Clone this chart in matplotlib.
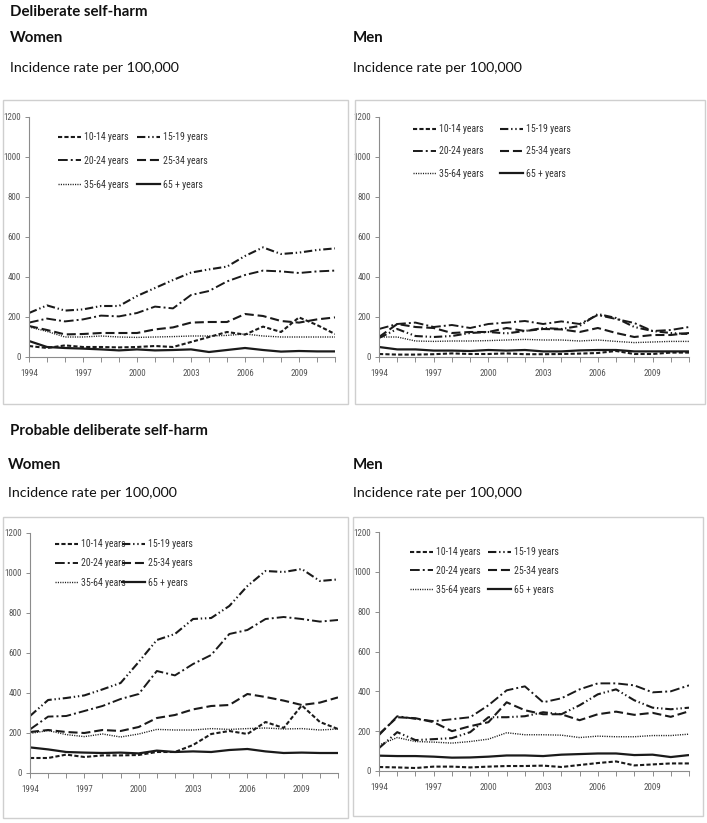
import matplotlib
matplotlib.use("Agg")
import matplotlib.pyplot as plt
from matplotlib import font_manager
from matplotlib.font_manager import FontProperties
from matplotlib.patches import Rectangle
from matplotlib.lines import Line2D

years = list(range(1994, 2012))
age_groups = ["10-14 years", "15-19 years", "20-24 years", "25-34 years", "35-64 years", "65 + years"]
year_labels = ["1994", "1997", "2000", "2003", "2006", "2009"]
y_ticks = [0, 200, 400, 600, 800, 1000, 1200]

# Deliberate self-harm, women
dsh_women_10_14 = [55, 45, 58, 50, 50, 48, 50, 55, 50, 75, 100, 125, 112, 152, 125, 198, 160, 115]
dsh_women_15_19 = [220, 258, 232, 238, 255, 255, 305, 345, 385, 422, 438, 452, 505, 548, 515, 522, 535, 543]
dsh_women_20_24 = [172, 192, 178, 188, 207, 203, 220, 252, 243, 310, 330, 378, 410, 432, 428, 420, 428, 432]
dsh_women_25_34 = [155, 135, 113, 115, 120, 120, 120, 138, 148, 172, 175, 175, 215, 205, 180, 172, 188, 198]
dsh_women_35_64 = [150, 128, 100, 100, 105, 100, 98, 100, 102, 105, 105, 108, 115, 105, 100, 100, 100, 100]
dsh_women_65 = [80, 50, 45, 42, 38, 33, 38, 33, 35, 38, 25, 35, 45, 35, 27, 30, 28, 28]

# Deliberate self-harm, men
dsh_men_10_14 = [15, 12, 12, 14, 18, 15, 15, 18, 14, 14, 15, 17, 20, 30, 15, 15, 22, 22]
dsh_men_15_19 = [95, 140, 105, 100, 105, 120, 125, 118, 130, 145, 140, 155, 215, 195, 150, 130, 120, 115]
dsh_men_20_24 = [140, 165, 172, 150, 160, 145, 165, 172, 180, 165, 178, 165, 210, 190, 170, 130, 135, 150]
dsh_men_25_34 = [100, 165, 150, 145, 120, 125, 125, 145, 130, 140, 138, 125, 145, 120, 100, 110, 110, 120]
dsh_men_35_64 = [100, 100, 80, 78, 80, 80, 82, 85, 88, 85, 85, 80, 85, 78, 72, 75, 78, 78]
dsh_men_65 = [50, 38, 38, 32, 32, 30, 35, 32, 35, 28, 28, 33, 35, 35, 28, 28, 28, 28]

# Probable deliberate self-harm, women
pdsh_women_10_14 = [75, 75, 92, 80, 88, 88, 90, 105, 105, 140, 195, 210, 195, 255, 225, 338, 255, 220]
pdsh_women_15_19 = [285, 365, 375, 388, 418, 450, 555, 665, 695, 770, 775, 835, 935, 1010, 1005, 1020, 960, 968]
pdsh_women_20_24 = [218, 282, 285, 310, 335, 370, 395, 510, 488, 545, 590, 695, 715, 770, 780, 770, 757, 765]
pdsh_women_25_34 = [205, 215, 205, 200, 215, 210, 230, 275, 290, 318, 335, 340, 395, 380, 362, 340, 352, 378]
pdsh_women_35_64 = [198, 212, 192, 182, 195, 180, 195, 218, 215, 215, 222, 218, 222, 225, 220, 222, 215, 220]
pdsh_women_65 = [128, 118, 105, 102, 100, 102, 98, 112, 105, 108, 105, 115, 120, 108, 100, 102, 100, 100]

# Probable deliberate self-harm, men
pdsh_men_10_14 = [20, 18, 15, 22, 22, 18, 22, 25, 25, 27, 20, 30, 40, 48, 28, 33, 38, 38]
pdsh_men_15_19 = [115, 195, 155, 160, 165, 195, 270, 270, 275, 295, 285, 330, 385, 410, 355, 318, 310, 318]
pdsh_men_20_24 = [180, 275, 262, 250, 260, 270, 330, 405, 425, 345, 365, 410, 440, 440, 430, 395, 400, 430]
pdsh_men_25_34 = [185, 270, 265, 245, 200, 225, 245, 345, 305, 285, 285, 255, 285, 298, 282, 292, 272, 300]
pdsh_men_35_64 = [130, 168, 148, 145, 140, 148, 160, 192, 182, 182, 180, 168, 175, 172, 172, 178, 178, 185]
pdsh_men_65 = [77, 75, 75, 72, 67, 68, 72, 78, 78, 75, 82, 85, 88, 88, 80, 82, 70, 80]

W, H = 707, 823
LINE = "#1a1a1a"
AXIS = "#8c8c8c"
TICKTXT = "#555555"
LEGTXT = "#333333"
FRAME = "#cfcfcf"
HEAD = ["Lato", "DejaVu Sans"]

# dash patterns in points (scale_dashes off)
styles = [
    dict(ls=(0, (3.0, 1.6)), lw=1.5),               # 10-14
    dict(ls=(0, (6, 2, 1, 2, 1, 2)), lw=1.5),       # 15-19
    dict(ls=(0, (7, 2.2, 1.4, 2.2)), lw=1.4),       # 20-24
    dict(ls=(0, (6.5, 2.8)), lw=1.5),               # 25-34
    dict(ls=(0, (0.8, 0.9)), lw=1.0),               # 35-64
    dict(ls="-", lw=1.6),                           # 65+
]


def narrow_font(size):
    """
    The source uses a condensed Excel font; take the narrowest regular one installed
    and pin it to its file so every label uses the same face.
    """
    fonts = font_manager.fontManager.ttflist
    names = {f.name for f in fonts}
    for name in ["Liberation Sans Narrow", "Roboto Condensed", "Open Sans Condensed"]:
        if name in names:
            path = font_manager.findfont(FontProperties(family=name, weight="normal",
                                                        style="normal"))
            return FontProperties(fname=path, size=size)
    for f in fonts:
        if f.name == "DejaVu Sans" and str(f.stretch) in ("condensed", "semi-condensed") \
                and f.weight in (400, "normal") and f.style == "normal":
            return FontProperties(fname=f.fname, size=size)
    return FontProperties(family=["Roboto", "DejaVu Sans"], size=size - 0.8)


def px_axes(fig, x0, y0, x1, y1):
    """Add axes from pixel box (top-left origin)."""
    return fig.add_axes([x0 / W, 1 - y1 / H, (x1 - x0) / W, (y1 - y0) / H])


def px_frame(fig, x0, y0, x1, y1):
    """Light grey chart-area border like the Excel export."""
    fig.patches.append(Rectangle((x0 / W, 1 - y1 / H), (x1 - x0) / W, (y1 - y0) / H,
                                 transform=fig.transFigure, fill=False,
                                 edgecolor=FRAME, linewidth=1.0))


def draw_panel(fig, ax, series, leg_pos, tick_font, leg_font):
    """
    Draw one panel. leg_pos = (col1 x, col2 x, first row y, row pitch) in pixels.
    """
    for vals, st in zip(series, styles):
        ax.plot(years, vals, color=LINE, linestyle=st["ls"], linewidth=st["lw"],
                solid_capstyle="butt", dash_capstyle="butt")
    ax.set_xlim(years[0], years[-1])
    ax.set_ylim(0, 1200)
    ax.set_yticks(y_ticks)
    ax.set_xticks(years, minor=True)
    ax.set_xticks([int(y) for y in year_labels])
    ax.set_xticklabels(year_labels)
    for s in ["top", "right"]:
        ax.spines[s].set_visible(False)
    for s in ["left", "bottom"]:
        ax.spines[s].set_color(AXIS)
        ax.spines[s].set_linewidth(0.8)
    ax.tick_params(axis="both", which="both", color=AXIS, width=0.7, labelcolor=TICKTXT)
    ax.tick_params(axis="x", which="both", direction="out", length=3.5, pad=5)
    ax.tick_params(axis="y", direction="out", length=3, pad=3)
    for lab in ax.get_xticklabels() + ax.get_yticklabels():
        lab.set_fontproperties(tick_font)
    ax.set_facecolor("none")

    # legend 3 rows x 2 columns; column gap worked out from the text width
    handles = [Line2D([], [], color=LINE, linestyle=st["ls"], linewidth=st["lw"])
               for st in styles]
    order = [0, 2, 4, 1, 3, 5]
    col1_x, col2_x, row_y, pitch = leg_pos
    fsize_px = leg_font.get_size_in_points() * 100 / 72
    handlelength, textpad = 2.4, 0.3
    renderer = fig.canvas.get_renderer()
    text_w = max(renderer.get_text_width_height_descent(age_groups[i], leg_font, ismath=False)[0]
                 for i in [0, 2, 4])
    colspace = (col2_x - col1_x - (handlelength + textpad) * fsize_px - text_w) / fsize_px
    spacing = (pitch - fsize_px * 1.15) / fsize_px
    leg = ax.legend([handles[i] for i in order], [age_groups[i] for i in order], ncol=2,
                    loc="upper left", bbox_to_anchor=(col1_x / W, 1 - (row_y - 6) / H),
                    bbox_transform=fig.transFigure, frameon=False,
                    borderpad=0, borderaxespad=0, handlelength=handlelength,
                    handletextpad=textpad, columnspacing=colspace,
                    labelspacing=spacing, prop=leg_font)
    for t in leg.get_texts():
        t.set_color(LEGTXT)


def draw_figure():
    plt.rcParams["lines.scale_dashes"] = False
    fig = plt.figure(figsize=(W / 100, H / 100), dpi=100)
    fig.patch.set_facecolor("white")
    tick_font = narrow_font(6.5)
    leg_font = narrow_font(7)

    def head(x, y, s, bold=False, size=10.8):
        fig.text(x / W, 1 - y / H, s, ha="left", va="center", family=HEAD,
                 fontsize=size, fontweight="bold" if bold else "normal", color="#111111")

    head(10, 12, "Deliberate self-harm", bold=True)
    head(10, 38, "Women", bold=True)
    head(353, 38, "Men", bold=True)
    head(10, 68, "Incidence rate per 100,000", size=10.3)
    head(353, 68, "Incidence rate per 100,000", size=10.3)

    head(10, 431, "Probable deliberate self-harm", bold=True)
    head(8, 465, "Women", bold=True)
    head(353, 465, "Men", bold=True)
    head(8, 493, "Incidence rate per 100,000", size=10.3)
    head(353, 493, "Incidence rate per 100,000", size=10.3)

    # chart area borders
    px_frame(fig, 3, 100, 348, 404)
    px_frame(fig, 355, 100, 705, 404)
    px_frame(fig, 3, 517, 348, 818)
    px_frame(fig, 353, 517, 703, 816)

    ax1 = px_axes(fig, 29, 117, 335, 357)
    draw_panel(fig, ax1, [dsh_women_10_14, dsh_women_15_19, dsh_women_20_24,
                          dsh_women_25_34, dsh_women_35_64, dsh_women_65],
               (58, 137, 138, 25), tick_font, leg_font)
    ax2 = px_axes(fig, 379, 117, 689, 357)
    draw_panel(fig, ax2, [dsh_men_10_14, dsh_men_15_19, dsh_men_20_24,
                          dsh_men_25_34, dsh_men_35_64, dsh_men_65],
               (413, 500, 130, 23.5), tick_font, leg_font)
    ax3 = px_axes(fig, 30, 533, 338, 773)
    draw_panel(fig, ax3, [pdsh_women_10_14, pdsh_women_15_19, pdsh_women_20_24,
                          pdsh_women_25_34, pdsh_women_35_64, pdsh_women_65],
               (55, 122, 545, 20.5), tick_font, leg_font)
    ax4 = px_axes(fig, 379, 532, 689, 771)
    draw_panel(fig, ax4, [pdsh_men_10_14, pdsh_men_15_19, pdsh_men_20_24,
                          pdsh_men_25_34, pdsh_men_35_64, pdsh_men_65],
               (410, 488, 553, 20), tick_font, leg_font)

    fig.savefig("out.png", dpi=100, facecolor="white")


if __name__ == "__main__":
    draw_figure()
